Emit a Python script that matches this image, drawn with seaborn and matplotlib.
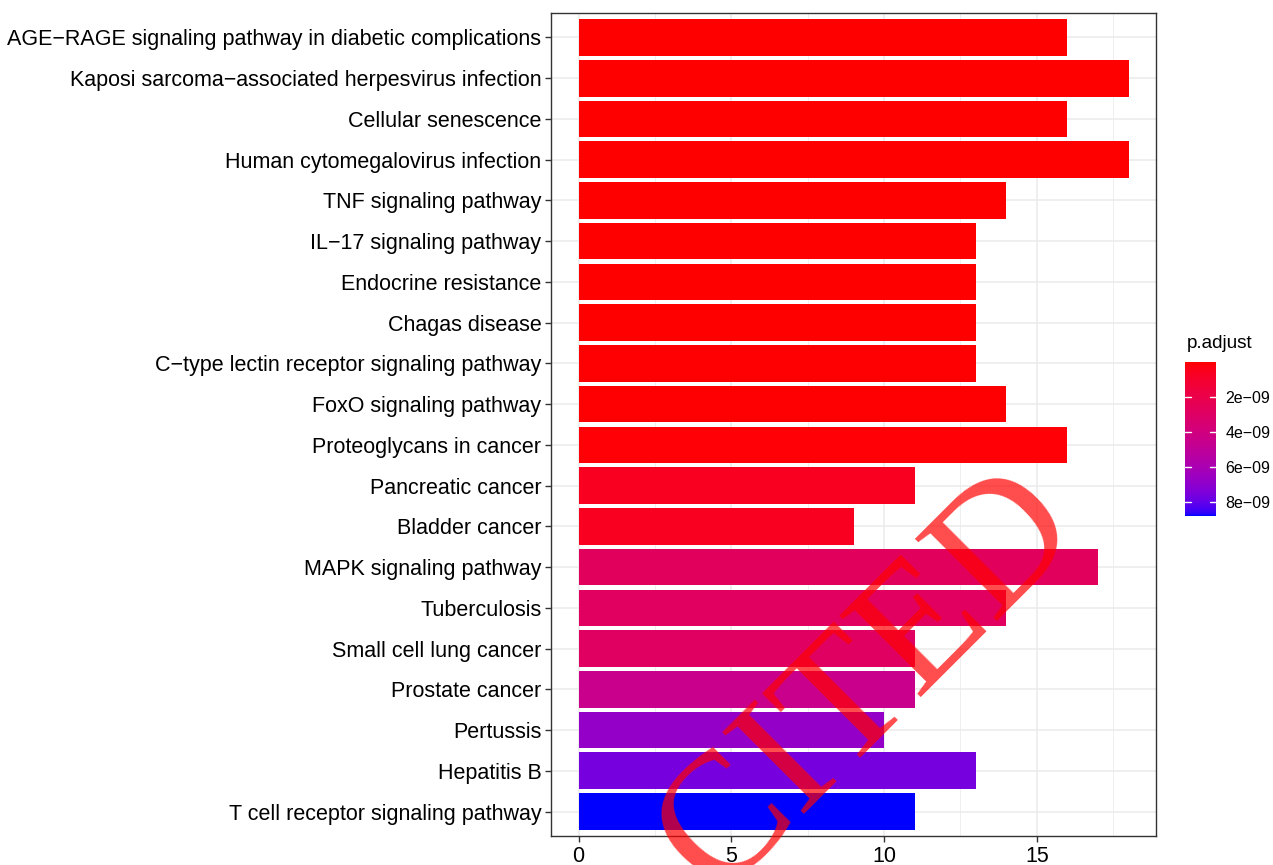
import numpy as np
import pandas as pd
import matplotlib
matplotlib.use("Agg")
import matplotlib.pyplot as plt
import seaborn as sns
from matplotlib.colors import ListedColormap, Normalize
from matplotlib.cm import ScalarMappable

# ---------------- data ----------------
terms = [
    "AGE\u2212RAGE signaling pathway in diabetic complications",
    "Kaposi sarcoma\u2212associated herpesvirus infection",
    "Cellular senescence",
    "Human cytomegalovirus infection",
    "TNF signaling pathway",
    "IL\u221217 signaling pathway",
    "Endocrine resistance",
    "Chagas disease",
    "C\u2212type lectin receptor signaling pathway",
    "FoxO signaling pathway",
    "Proteoglycans in cancer",
    "Pancreatic cancer",
    "Bladder cancer",
    "MAPK signaling pathway",
    "Tuberculosis",
    "Small cell lung cancer",
    "Prostate cancer",
    "Pertussis",
    "Hepatitis B",
    "T cell receptor signaling pathway",
]
counts = [16, 18, 16, 18, 14, 13, 13, 13, 13, 14, 16, 11, 9, 17, 14, 11, 11, 10, 13, 11]
p_adjust = [2.1e-13, 1.9e-12, 3.0e-12, 5.2e-12, 1.6e-11, 2.4e-11, 3.1e-11, 3.3e-11,
            4.5e-11, 6.0e-11, 7.2e-11, 5.9e-10, 6.4e-10, 2.75e-9, 2.8e-9, 2.9e-9,
            4.5e-9, 6.8e-9, 7.6e-9, 8.8e-9]
x_ticks = [0, 5, 10, 15]
cbar_ticks = [2e-9, 4e-9, 6e-9, 8e-9]
cbar_labels = ["2e\u221209", "4e\u221209", "6e\u221209", "8e\u221209"]

df = pd.DataFrame({"Description": terms, "Count": counts, "p.adjust": p_adjust})

# ---------------- Lab gradient red -> blue (like ggplot) ----------------
M = np.array([[0.4124, 0.3576, 0.1805],
              [0.2126, 0.7152, 0.0722],
              [0.0193, 0.1192, 0.9505]])
Minv = np.linalg.inv(M)
WHITE = np.array([0.95047, 1.0, 1.08883])

def srgb_to_lab(rgb):
    rgb = np.asarray(rgb, float)
    lin = np.where(rgb <= 0.04045, rgb / 12.92, ((rgb + 0.055) / 1.055) ** 2.4)
    xyz = M @ lin / WHITE
    f = np.where(xyz > (6 / 29) ** 3, np.cbrt(xyz), xyz / (3 * (6 / 29) ** 2) + 4 / 29)
    return np.array([116 * f[1] - 16, 500 * (f[0] - f[1]), 200 * (f[1] - f[2])])

def lab_to_srgb(lab):
    L, a, b = lab
    fy = (L + 16) / 116
    fx = fy + a / 500
    fz = fy - b / 200
    f = np.array([fx, fy, fz])
    xyz = np.where(f > 6 / 29, f ** 3, 3 * (6 / 29) ** 2 * (f - 4 / 29)) * WHITE
    lin = np.clip(Minv @ xyz, 0, 1)
    rgb = np.where(lin <= 0.0031308, 12.92 * lin, 1.055 * lin ** (1 / 2.4) - 0.055)
    return np.clip(rgb, 0, 1)

lab_lo = srgb_to_lab([1, 0, 0])
lab_hi = srgb_to_lab([0, 0, 1])
cmap = ListedColormap([lab_to_srgb(lab_lo * (1 - t) + lab_hi * t) for t in np.linspace(0, 1, 256)])
norm = Normalize(vmin=min(p_adjust), vmax=max(p_adjust))
bar_colors = [cmap(norm(v)) for v in df["p.adjust"]]

# ---------------- figure ----------------
sns.set_theme(style="white")
plt.rcParams["font.family"] = ["Liberation Sans", "DejaVu Sans"]

fig = plt.figure(figsize=(12.73, 8.65), dpi=100)
ax = fig.add_axes([551 / 1273, 1 - 836 / 865, (1156 - 551) / 1273, (836 - 13) / 865])

sns.barplot(data=df, x="Count", y="Description", hue="Description",
            palette=bar_colors, dodge=False, legend=False, width=0.9,
            saturation=1, linewidth=0, ax=ax, zorder=3)

ax.set_xlim(-0.9, 18.9)
ax.set_ylim(len(terms) - 0.4, -0.6)
ax.set_xticks(x_ticks)
ax.set_xticks([2.5, 7.5, 12.5, 17.5], minor=True)
ax.set_xticklabels([str(t) for t in x_ticks])
ax.set_xlabel("")
ax.set_ylabel("")

ax.grid(True, which="major", axis="both", color="#EBEBEB", linewidth=1.1, zorder=0)
ax.grid(True, which="minor", axis="x", color="#EBEBEB", linewidth=0.55, zorder=0)
ax.set_axisbelow(True)
for s in ax.spines.values():
    s.set_color("#333333")
    s.set_linewidth(1.0)
    s.set_visible(True)
ax.tick_params(axis="both", which="major", length=4, width=1.0, color="#333333",
               labelsize=15.5, labelcolor="black", pad=3, left=True, bottom=True)
ax.tick_params(axis="x", which="minor", length=0)

# ---------------- colorbar ----------------
cax = fig.add_axes([1185 / 1273, 1 - 516 / 865, 31 / 1273, 154 / 865])
cb = fig.colorbar(ScalarMappable(norm=norm, cmap=cmap), cax=cax)
cb.outline.set_visible(False)
cb.set_ticks(cbar_ticks)
cb.set_ticklabels(cbar_labels)
cax.invert_yaxis()
cax.tick_params(length=0, labelsize=11.5, pad=7, labelcolor="black")
tr = cax.get_yaxis_transform()
for t in cbar_ticks:
    cax.plot([0, 0.2], [t, t], color="white", lw=1, transform=tr)
    cax.plot([0.8, 1], [t, t], color="white", lw=1, transform=tr)
fig.text(1187 / 1273, 1 - 343 / 865, "p.adjust", ha="left", va="center",
         fontsize=13.6, color="black")

# ---------------- watermark ----------------
fig.text(899 / 1273, 1 - 712 / 865, "CITED", rotation=45, rotation_mode="anchor",
         ha="center", va="baseline", fontsize=127, color="red", alpha=0.7,
         family=["Liberation Serif", "DejaVu Serif"], zorder=10)

fig.savefig("out.png", dpi=100)
